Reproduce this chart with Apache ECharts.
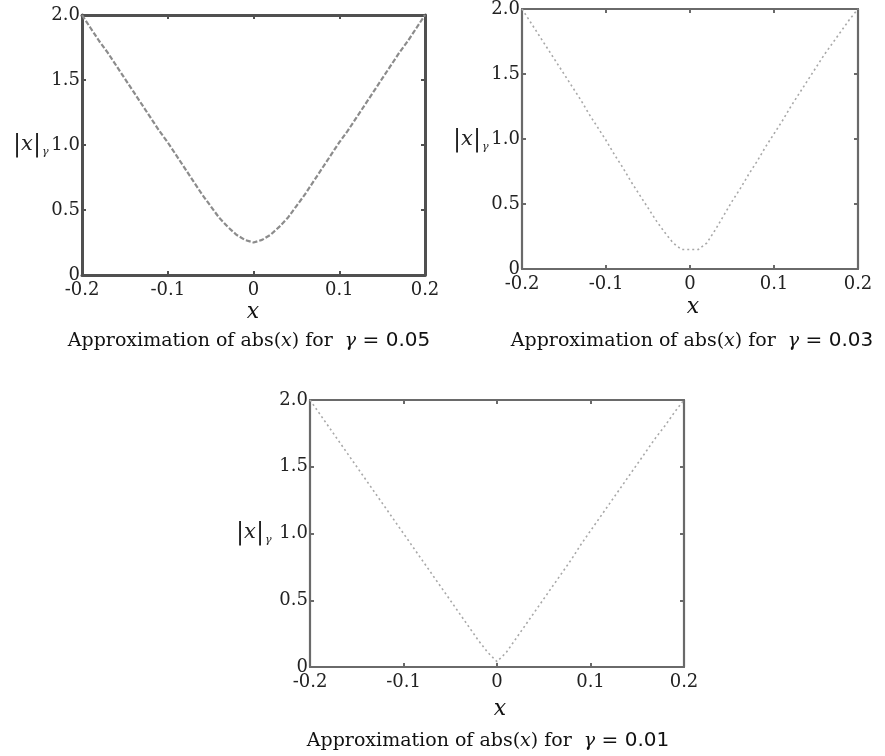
<!DOCTYPE html>
<html>
<head>
<meta charset="utf-8">
<title>Smooth approximations of abs(x)</title>
<script src="https://cdn.jsdelivr.net/npm/echarts@6/dist/echarts.min.js"></script>
<style>
  html, body { margin: 0; padding: 0; background: #ffffff; }
  #chart { width: 885px; height: 756px; }
</style>
</head>
<body>
<div id="chart"></div>
<script>
// Sample positions along x (shared by all three panels)
const xValues = [
  -0.20, -0.19, -0.18, -0.17, -0.16, -0.15, -0.14, -0.13, -0.12, -0.11,
  -0.10, -0.09, -0.08, -0.07, -0.06, -0.05, -0.04, -0.03, -0.02, -0.01,
   0.00,  0.01,  0.02,  0.03,  0.04,  0.05,  0.06,  0.07,  0.08,  0.09,
   0.10,  0.11,  0.12,  0.13,  0.14,  0.15,  0.16,  0.17,  0.18,  0.19, 0.20
];

// |x|_gamma for gamma = 0.05
const absGamma005 = [
  2.00, 1.90, 1.80, 1.71, 1.61, 1.51, 1.41, 1.31, 1.21, 1.11,
  1.02, 0.92, 0.82, 0.72, 0.62, 0.53, 0.44, 0.37, 0.31, 0.27,
  0.25, 0.27, 0.31, 0.37, 0.44, 0.53, 0.62, 0.72, 0.82, 0.92,
  1.02, 1.11, 1.21, 1.31, 1.41, 1.51, 1.61, 1.71, 1.80, 1.90, 2.00
];

// |x|_gamma for gamma = 0.03
const absGamma003 = [
  2.00, 1.90, 1.80, 1.70, 1.60, 1.50, 1.40, 1.30, 1.19, 1.09,
  0.99, 0.88, 0.78, 0.67, 0.57, 0.47, 0.37, 0.28, 0.20, 0.15,
  0.15, 0.15, 0.20, 0.30, 0.41, 0.52, 0.62, 0.73, 0.83, 0.94,
  1.04, 1.14, 1.25, 1.35, 1.45, 1.55, 1.65, 1.74, 1.83, 1.92, 2.00
];

// |x|_gamma for gamma = 0.01
const absGamma001 = [
  2.00, 1.90, 1.80, 1.70, 1.60, 1.50, 1.40, 1.30, 1.20, 1.10,
  1.00, 0.90, 0.80, 0.70, 0.60, 0.50, 0.40, 0.30, 0.20, 0.11,
  0.04, 0.11, 0.21, 0.31, 0.41, 0.51, 0.61, 0.71, 0.81, 0.92,
  1.02, 1.12, 1.22, 1.32, 1.42, 1.52, 1.62, 1.72, 1.81, 1.91, 2.00
];

// Axis ranges and tick steps
const xRange = { min: -0.2, max: 0.2, step: 0.1 };
const yRange = { min: 0, max: 2, step: 0.5 };

// Panel captions
const gammaLabels = ['0.05', '0.03', '0.01'];

const SERIF = '"DejaVu Serif", "Liberation Serif", serif';
const SANS = '"DejaVu Sans", "Liberation Sans", sans-serif';

// Placement of each panel's plotting box and its captions
const panels = [
  { grid: { left: 82, top: 15, width: 343, height: 260 }, data: absGamma005,
    frame: '#505050', frameWidth: 3, line: '#8c8c8c', lineWidth: 2.2, dash: [5, 2],
    caption: [249, 341], xName: [253, 312], yName: [13, 145] },
  { grid: { left: 522, top: 8, width: 336, height: 261 }, data: absGamma003,
    frame: '#6a6a6a', frameWidth: 2.2, line: '#a8a8a8', lineWidth: 1.6, dash: [2, 3],
    caption: [692, 341], xName: [693, 307], yName: [453, 140] },
  { grid: { left: 310, top: 400, width: 374, height: 267 }, data: absGamma001,
    frame: '#6a6a6a', frameWidth: 2.2, line: '#a8a8a8', lineWidth: 1.6, dash: [2, 3],
    caption: [488, 741], xName: [500, 709], yName: [236, 533] }
];

const fmt = v => (Math.abs(v) < 1e-9 ? '0' : v.toFixed(1));

const grids = [], xAxes = [], yAxes = [], series = [], texts = [];

panels.forEach((p, i) => {
  grids.push(Object.assign({ containLabel: false }, p.grid));

  const lineStyle = { color: p.frame, width: p.frameWidth };
  const tick = { show: true, inside: true, length: 4, lineStyle: { color: p.frame, width: 2 } };

  // bottom and top x axes (the top one only closes the box)
  xAxes.push({
    type: 'value', gridIndex: i, position: 'bottom',
    min: xRange.min, max: xRange.max, interval: xRange.step,
    axisLine: { show: true, onZero: false, lineStyle },
    axisTick: tick,
    axisLabel: { formatter: fmt, fontFamily: SERIF, fontSize: 18, color: '#222', margin: 6 },
    splitLine: { show: false }
  });
  xAxes.push({
    type: 'value', gridIndex: i, position: 'top',
    min: xRange.min, max: xRange.max, interval: xRange.step,
    axisLine: { show: true, onZero: false, lineStyle },
    axisTick: tick,
    axisLabel: { show: false },
    splitLine: { show: false }
  });

  // left and right y axes
  yAxes.push({
    type: 'value', gridIndex: i, position: 'left',
    min: yRange.min, max: yRange.max, interval: yRange.step,
    axisLine: { show: true, onZero: false, lineStyle },
    axisTick: tick,
    axisLabel: { formatter: fmt, fontFamily: SERIF, fontSize: 18, color: '#222', margin: 2 },
    splitLine: { show: false }
  });
  yAxes.push({
    type: 'value', gridIndex: i, position: 'right',
    min: yRange.min, max: yRange.max, interval: yRange.step,
    axisLine: { show: true, onZero: false, lineStyle },
    axisTick: tick,
    axisLabel: { show: false },
    splitLine: { show: false }
  });

  series.push({
    type: 'line',
    xAxisIndex: i * 2,
    yAxisIndex: i * 2,
    data: xValues.map((x, k) => [x, p.data[k]]),
    showSymbol: false,
    smooth: false,
    silent: true,
    lineStyle: { color: p.line, width: p.lineWidth, type: p.dash },
    z: 1
  });

  // caption under the panel
  texts.push({
    type: 'text', x: p.caption[0], y: p.caption[1],
    style: {
      text: '{n|Approximation of abs(}{i|x}{n|) for  }{g|γ}{s| = ' + gammaLabels[i] + '}',
      align: 'center', verticalAlign: 'middle',
      rich: {
        n: { fontFamily: SERIF, fontSize: 19, fill: '#111' },
        i: { fontFamily: SERIF, fontStyle: 'italic', fontSize: 19, fill: '#111' },
        g: { fontFamily: SERIF, fontStyle: 'italic', fontSize: 19, fill: '#111' },
        s: { fontFamily: SANS, fontSize: 20, fill: '#111' }
      }
    }
  });

  // x axis name
  texts.push({
    type: 'text', x: p.xName[0], y: p.xName[1],
    style: {
      text: 'x', align: 'center', verticalAlign: 'middle',
      font: 'italic 22px ' + SERIF, fill: '#111'
    }
  });

  // y axis name |x|_gamma
  texts.push({
    type: 'text', x: p.yName[0], y: p.yName[1],
    style: {
      text: '{b||}{v|x}{b||}{sub|γ}',
      align: 'left', verticalAlign: 'middle',
      rich: {
        b: { fontFamily: SERIF, fontSize: 24, fill: '#222' },
        v: { fontFamily: SERIF, fontStyle: 'italic', fontSize: 21, fill: '#222' },
        sub: { fontFamily: SERIF, fontStyle: 'italic', fontSize: 11, fill: '#222',
               padding: [14, 0, 0, 1] }
      }
    }
  });
});

const chart = echarts.init(document.getElementById('chart'), null, { renderer: 'canvas' });
chart.setOption({
  backgroundColor: '#ffffff',
  animation: false,
  grid: grids,
  xAxis: xAxes,
  yAxis: yAxes,
  series: series,
  graphic: { elements: texts }
});
</script>
</body>
</html>
